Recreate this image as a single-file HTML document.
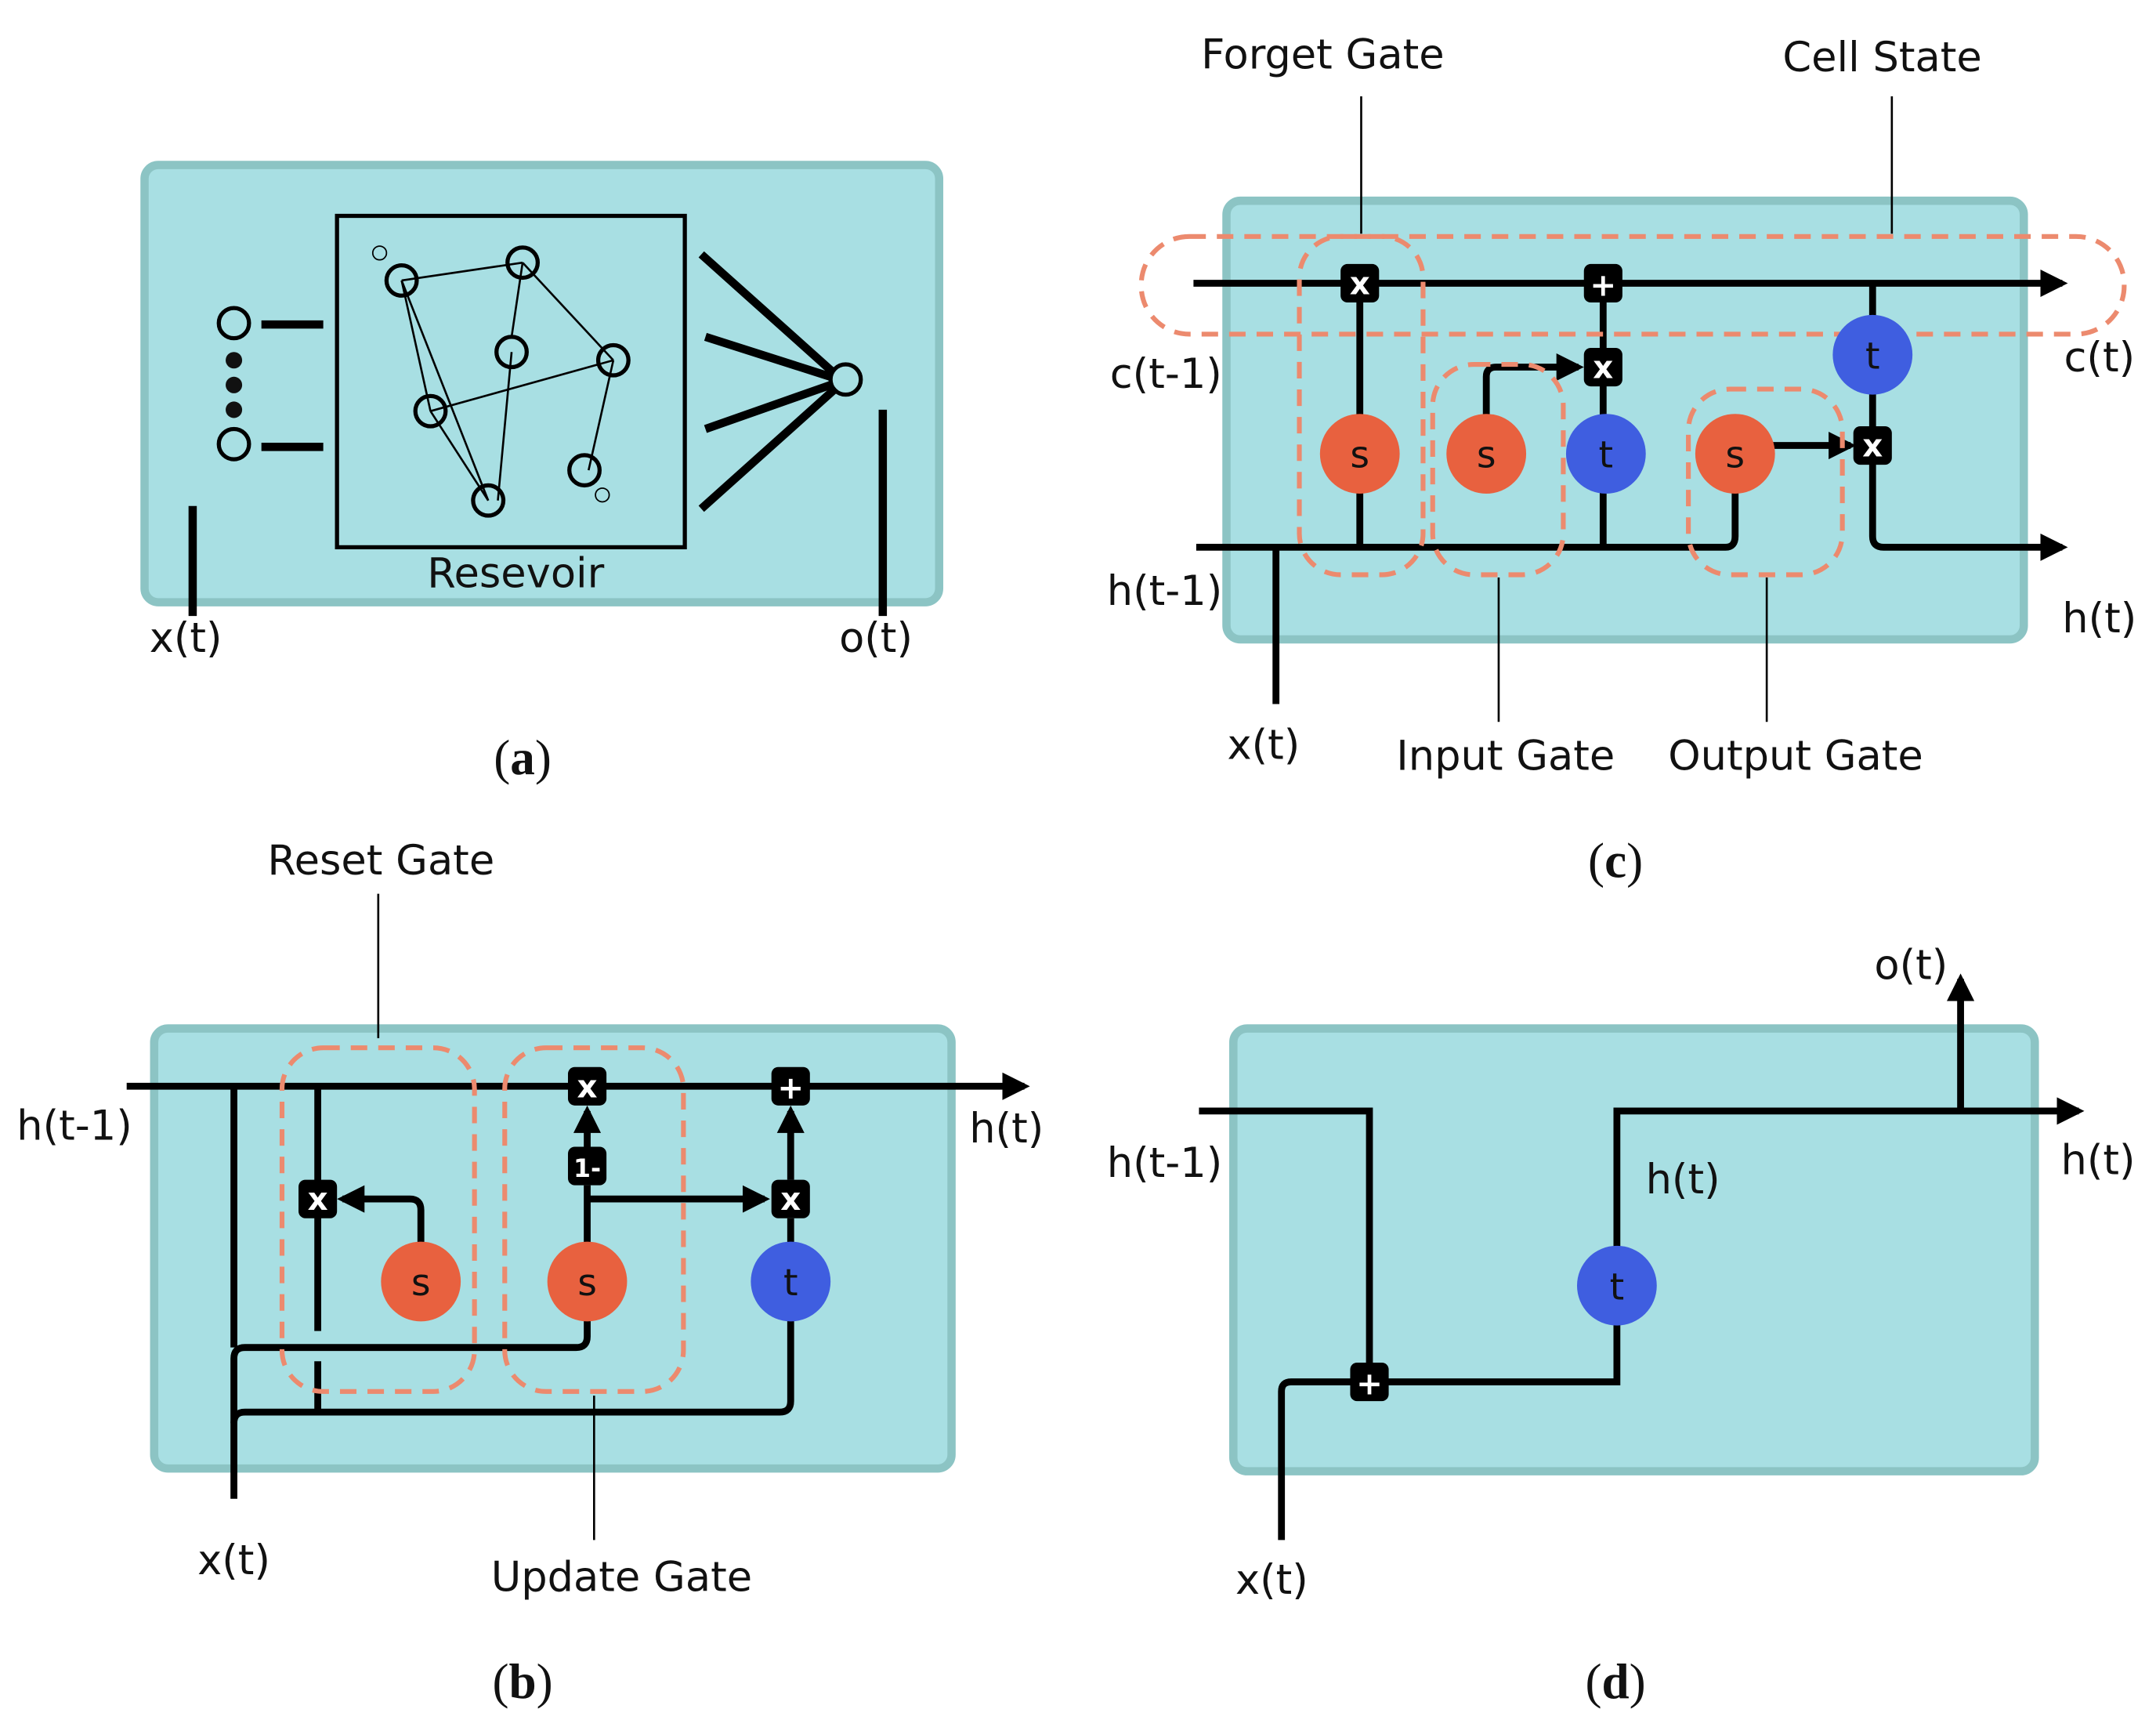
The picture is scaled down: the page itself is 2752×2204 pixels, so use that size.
<!DOCTYPE html>
<html><head><meta charset="utf-8"><style>html,body{margin:0;padding:0;background:#fff}svg{display:block}</style></head><body>
<svg width="2752" height="2204" viewBox="0 0 1568 1256" xmlns="http://www.w3.org/2000/svg">
<defs>
<marker id="ar" viewBox="0 0 10 10" refX="8" refY="5" markerWidth="4" markerHeight="4" orient="auto"><path d="M0,0 L10,5 L0,10 z" fill="#000"/></marker>
</defs>
<g font-family="DejaVu Sans, Liberation Sans, sans-serif" font-size="30" fill="#111">
<!-- panel a -->
<rect x="105" y="120" width="578" height="318" rx="10" fill="#a8dfe3" stroke="#8cc4c4" stroke-width="6"/>
<rect x="245" y="157" width="253" height="241" fill="none" stroke="#000" stroke-width="3"/>
<g stroke="#000" stroke-width="1.5" fill="none">
<line x1="292" y1="204" x2="380" y2="191"/><line x1="380" y1="191" x2="446" y2="262"/><line x1="380" y1="191" x2="372" y2="245"/>
<line x1="292" y1="204" x2="355" y2="364"/><line x1="292" y1="204" x2="313" y2="299"/><line x1="313" y1="299" x2="446" y2="262"/>
<line x1="372" y1="256" x2="362" y2="364"/><line x1="446" y1="262" x2="428" y2="342"/><line x1="313" y1="299" x2="355" y2="364"/>
</g>
<g stroke="#000" stroke-width="3" fill="none">
<circle cx="292" cy="204" r="11"/><circle cx="380" cy="191" r="11"/><circle cx="372" cy="256" r="11"/><circle cx="446" cy="262" r="11"/>
<circle cx="313" cy="299" r="11"/><circle cx="425" cy="342" r="11"/><circle cx="355" cy="364" r="11"/>
<circle cx="170" cy="235" r="11"/><circle cx="170" cy="323" r="11"/><circle cx="615" cy="276" r="11"/>
<circle cx="276" cy="184" r="5" stroke-width="1"/><circle cx="438" cy="360" r="5" stroke-width="1"/>
</g>
<circle cx="170" cy="262" r="6"/><circle cx="170" cy="280" r="6"/><circle cx="170" cy="298" r="6"/>
<g stroke="#000" stroke-width="6" stroke-linecap="butt">
<line x1="190" y1="236" x2="235" y2="236"/><line x1="190" y1="325" x2="235" y2="325"/>
<line x1="510" y1="185" x2="605" y2="270"/><line x1="513" y1="245" x2="604" y2="274"/><line x1="513" y1="312" x2="604" y2="280"/><line x1="510" y1="370" x2="606" y2="284"/>
<line x1="140" y1="368" x2="140" y2="448"/><line x1="642" y1="298" x2="642" y2="448"/>
</g>
<text x="135" y="474" text-anchor="middle">x(t)</text><text x="637" y="474" text-anchor="middle">o(t)</text>
<text x="375" y="427" text-anchor="middle">Resevoir</text>
<text x="380" y="563" text-anchor="middle" font-family="Liberation Serif, serif" font-size="36">(<tspan font-weight="bold">a</tspan>)</text>

<!-- panel c -->
<rect x="892" y="146" width="580" height="319" rx="10" fill="#a8dfe3" stroke="#8cc4c4" stroke-width="6"/>
<g stroke="#000" stroke-width="5" fill="none">
<line x1="868" y1="206" x2="1500" y2="206" marker-end="url(#ar)"/>
<line x1="989" y1="206" x2="989" y2="398"/><line x1="1166" y1="206" x2="1166" y2="398"/>
<path d="M870,398 H1255 Q1262,398 1262,390 V330"/>
<line x1="928" y1="398" x2="928" y2="512"/>
<path d="M1081,330 V274 Q1081,267 1088,267 H1148" marker-end="url(#ar)"/>
<line x1="1262" y1="324" x2="1346" y2="324" marker-end="url(#ar)"/>
<path d="M1362,206 V390 Q1362,398 1370,398 H1500" marker-end="url(#ar)"/>
</g>
<g stroke="#ec8a6e" stroke-width="3.5" stroke-dasharray="12,8" fill="none">
<rect x="830" y="172" width="715" height="71" rx="35"/>
<rect x="945" y="172" width="90" height="246" rx="30"/>
<rect x="1042" y="265" width="95" height="153" rx="30"/>
<rect x="1228" y="283" width="112" height="135" rx="30"/>
</g>
<g stroke="#000" stroke-width="1.5"><line x1="990" y1="70" x2="990" y2="170"/><line x1="1376" y1="70" x2="1376" y2="170"/><line x1="1090" y1="420" x2="1090" y2="525"/><line x1="1285" y1="420" x2="1285" y2="525"/></g>
<circle cx="989" cy="330" r="29" fill="#e8613f"/><circle cx="1081" cy="330" r="29" fill="#e8613f"/><circle cx="1262" cy="330" r="29" fill="#e8613f"/>
<circle cx="1168" cy="330" r="29" fill="#3f5ee0"/><circle cx="1362" cy="258" r="29" fill="#3f5ee0"/>
<g text-anchor="middle" font-size="27"><text x="989" y="340">s</text><text x="1081" y="340">s</text><text x="1262" y="340">s</text><text x="1168" y="340">t</text><text x="1362" y="268">t</text></g>
<g fill="#000"><rect x="975" y="192" width="28" height="28" rx="5"/><rect x="1152" y="192" width="28" height="28" rx="5"/><rect x="1152" y="253" width="28" height="28" rx="5"/><rect x="1348" y="310" width="28" height="28" rx="5"/></g>
<g fill="#fff" font-size="23" font-weight="bold" text-anchor="middle"><text x="989" y="214">x</text><text x="1166" y="215">+</text><text x="1166" y="275">x</text><text x="1362" y="332">x</text></g>
<text x="962" y="50" text-anchor="middle">Forget Gate</text><text x="1369" y="52" text-anchor="middle">Cell State</text>
<text x="848" y="282" text-anchor="middle">c(t-1)</text><text x="1527" y="270" text-anchor="middle">c(t)</text>
<text x="847" y="440" text-anchor="middle">h(t-1)</text><text x="1527" y="460" text-anchor="middle">h(t)</text>
<text x="919" y="552" text-anchor="middle">x(t)</text><text x="1095" y="560" text-anchor="middle">Input Gate</text><text x="1306" y="560" text-anchor="middle">Output Gate</text>
<text x="1175" y="638" text-anchor="middle" font-family="Liberation Serif, serif" font-size="36">(<tspan font-weight="bold">c</tspan>)</text>

<!-- panel b -->
<rect x="112" y="748" width="580" height="320" rx="10" fill="#a8dfe3" stroke="#8cc4c4" stroke-width="6"/>
<g stroke="#000" stroke-width="5" fill="none">
<line x1="92" y1="790" x2="745" y2="790" marker-end="url(#ar)"/>
<path d="M170,1090 V1035 Q170,1027 178,1027 H567 Q575,1027 575,1019 V960"/>
<path d="M170,1035 V988 Q170,980 178,980 H419 Q427,980 427,972 V932"/>
<line x1="170" y1="790" x2="170" y2="980"/>
<line x1="231" y1="790" x2="231" y2="968"/><line x1="231" y1="990" x2="231" y2="1027"/>
<path d="M306,960 V880 Q306,872 298,872 H249" marker-end="url(#ar)"/>
<line x1="427" y1="932" x2="427" y2="862"/><line x1="427" y1="834" x2="427" y2="808" marker-end="url(#ar)"/>
<line x1="427" y1="872" x2="556" y2="872" marker-end="url(#ar)"/>
<line x1="575" y1="932" x2="575" y2="886"/><line x1="575" y1="858" x2="575" y2="808" marker-end="url(#ar)"/>
</g>
<g stroke="#ec8a6e" stroke-width="3.5" stroke-dasharray="12,8" fill="none">
<rect x="205" y="762" width="140" height="250" rx="30"/><rect x="367" y="762" width="130" height="250" rx="30"/>
</g>
<g stroke="#000" stroke-width="1.5"><line x1="275" y1="650" x2="275" y2="755"/><line x1="432" y1="1015" x2="432" y2="1120"/></g>
<circle cx="306" cy="932" r="29" fill="#e8613f"/><circle cx="427" cy="932" r="29" fill="#e8613f"/><circle cx="575" cy="932" r="29" fill="#3f5ee0"/>
<g text-anchor="middle" font-size="27"><text x="306" y="942">s</text><text x="427" y="942">s</text><text x="575" y="942">t</text></g>
<g fill="#000"><rect x="413" y="776" width="28" height="28" rx="5"/><rect x="561" y="776" width="28" height="28" rx="5"/><rect x="217" y="858" width="28" height="28" rx="5"/><rect x="413" y="834" width="28" height="28" rx="5"/><rect x="561" y="858" width="28" height="28" rx="5"/></g>
<g fill="#fff" font-size="23" font-weight="bold" text-anchor="middle"><text x="427" y="798">x</text><text x="575" y="799">+</text><text x="231" y="880">x</text><text x="427" y="856" font-size="18">1-</text><text x="575" y="880">x</text></g>
<text x="277" y="636" text-anchor="middle">Reset Gate</text>
<text x="54" y="829" text-anchor="middle">h(t-1)</text><text x="732" y="831" text-anchor="middle">h(t)</text>
<text x="170" y="1145" text-anchor="middle">x(t)</text><text x="452" y="1157" text-anchor="middle">Update Gate</text>
<text x="380" y="1235" text-anchor="middle" font-family="Liberation Serif, serif" font-size="36">(<tspan font-weight="bold">b</tspan>)</text>

<!-- panel d -->
<rect x="897" y="748" width="583" height="322" rx="10" fill="#a8dfe3" stroke="#8cc4c4" stroke-width="6"/>
<g stroke="#000" stroke-width="5" fill="none">
<path d="M872,808 H996 V1005"/>
<path d="M932,1120 V1012 Q932,1005 939,1005 H1176 V935"/>
<path d="M1176,935 V808 H1512" marker-end="url(#ar)"/>
<line x1="1426" y1="808" x2="1426" y2="712" marker-end="url(#ar)"/>
</g>
<circle cx="1176" cy="935" r="29" fill="#3f5ee0"/><text x="1176" y="945" text-anchor="middle" font-size="27">t</text>
<rect x="982" y="991" width="28" height="28" rx="5" fill="#000"/><text x="996" y="1014" fill="#fff" font-size="23" font-weight="bold" text-anchor="middle">+</text>
<text x="1390" y="712" text-anchor="middle">o(t)</text><text x="847" y="856" text-anchor="middle">h(t-1)</text>
<text x="1224" y="868" text-anchor="middle">h(t)</text><text x="1526" y="854" text-anchor="middle">h(t)</text>
<text x="925" y="1159" text-anchor="middle">x(t)</text>
<text x="1175" y="1235" text-anchor="middle" font-family="Liberation Serif, serif" font-size="36">(<tspan font-weight="bold">d</tspan>)</text>
</g>
</svg>
</body></html>
